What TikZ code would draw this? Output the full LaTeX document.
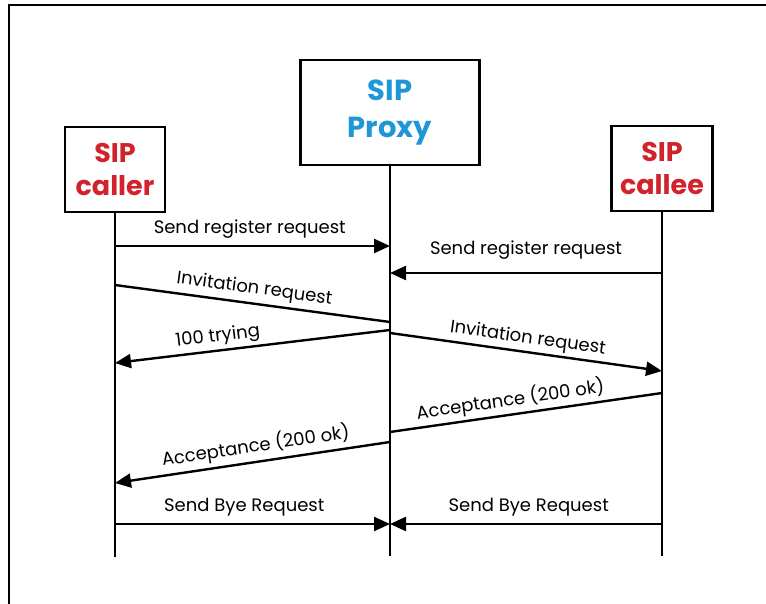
\documentclass[tikz,border=0pt]{standalone}
\usepackage{fontspec}
\setmainfont{Poppins}
\usetikzlibrary{arrows.meta}
\definecolor{sipred}{RGB}{210,35,45}
\definecolor{sipblue}{RGB}{30,150,215}
\begin{document}
\begin{tikzpicture}[x=1pt,y=-1pt,
  entity/.style={draw, line width=2.6pt, inner sep=0pt, align=center},
  lifeline/.style={line width=2pt},
  msg/.style={line width=2.4pt, -{Triangle[length=16pt,width=14pt]}},
  plainmsg/.style={line width=2.4pt},
  lbl/.style={font=\fontsize{18}{20}\selectfont, inner sep=1pt}]
\useasboundingbox (0,0) rectangle (766,604);
% frame
\draw[line width=2.8pt] (9,604) -- (9,5) -- (766,5);

% participants
\node[entity, minimum width=100pt, minimum height=85pt, text=sipred,
      font=\bfseries\fontsize{27}{33}\selectfont] (caller) at (115,169.5) {SIP\\caller};
\node[entity, minimum width=179pt, minimum height=105pt, text=sipblue,
      font=\bfseries\fontsize{29}{37}\selectfont] (proxy) at (390,112.5) {SIP\\Proxy};
\node[entity, minimum width=101pt, minimum height=85pt, text=sipred,
      font=\bfseries\fontsize{27}{33}\selectfont] (callee) at (662,168.5) {SIP\\callee};

% lifelines
\coordinate (callerEnd) at (caller |- 0,557);
\coordinate (proxyEnd) at (proxy |- 0,556);
\coordinate (calleeEnd) at (callee |- 0,556);
\draw[lifeline] (caller.south) -- (callerEnd);
\draw[lifeline] (proxy.south) -- (proxyEnd);
\draw[lifeline] (callee.south) -- (calleeEnd);

% message end points on the lifelines
\coordinate (c1) at (caller |- 0,246);  \coordinate (p1) at (proxy |- 0,246);
\coordinate (e2) at (callee |- 0,273);  \coordinate (p2) at (proxy |- 0,273);
\coordinate (c3) at (caller |- 0,285);  \coordinate (p3) at (proxy |- 0,322);
\coordinate (p4) at (proxy |- 0,330);   \coordinate (c4) at (caller |- 0,363);
\coordinate (p5) at (proxy |- 0,333);   \coordinate (e5) at (callee |- 0,371);
\coordinate (e6) at (callee |- 0,393);  \coordinate (p6) at (proxy |- 0,432);
\coordinate (p7) at (proxy |- 0,442);   \coordinate (c7) at (caller |- 0,483);
\coordinate (c8) at (caller |- 0,524);  \coordinate (p8) at (proxy |- 0,524);
\coordinate (e9) at (callee |- 0,524);  \coordinate (p9) at (proxy |- 0,524);

% messages
\draw[msg] (c1) -- node[lbl, above=5pt, pos=0.49] (l1) {Send register request} (p1);
\draw[msg] (e2) -- node[lbl, above=11pt, pos=0.5] (l2) {Send register request} (p2);
\draw[plainmsg] (c3) -- node[lbl, sloped, above=3pt, pos=0.5] (l3) {Invitation request} (p3);
\draw[msg] (p4) -- node[lbl, sloped, above=2pt, pos=0.62] (l4) {100 trying} (c4);
\draw[msg] (p5) -- node[lbl, sloped, above=2pt, pos=0.5] (l5) {Invitation request} (e5);
\draw[plainmsg] (e6) -- node[lbl, sloped, above=2pt, pos=0.55] (l6) {Acceptance (200 ok)} (p6);
\draw[msg] (p7) -- node[lbl, sloped, above=3pt, pos=0.48] (l7) {Acceptance (200 ok)} (c7);
\draw[msg] (c8) -- node[lbl, above=6pt, pos=0.47] (l8) {Send Bye Request} (p8);
\draw[msg] (e9) -- node[lbl, above=6pt, pos=0.49] (l9) {Send Bye Request} (p9);
\end{tikzpicture}
\end{document}
